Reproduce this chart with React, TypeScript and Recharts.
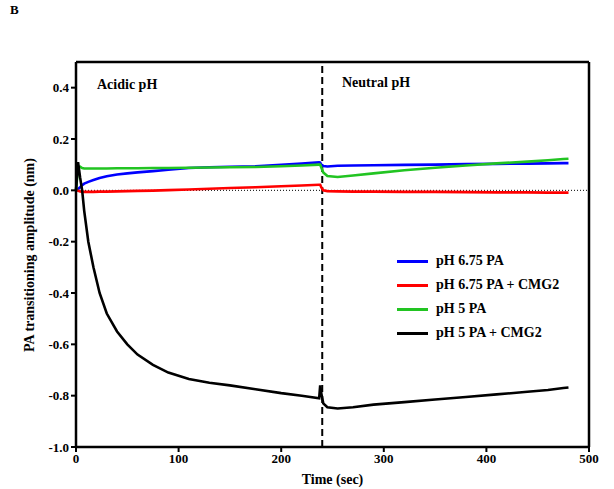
import { LineChart, Line, XAxis, YAxis, ReferenceLine } from 'recharts';

const times = [0, 2, 4, 6, 8, 12, 17, 23, 30, 40, 50, 60, 75, 90, 110, 130, 150, 175, 200, 220, 237, 238, 239, 241, 245, 255, 270, 290, 320, 350, 380, 410, 440, 460, 475, 480];

const ph675 = [0, 0.005, 0.012, 0.02, 0.026, 0.033, 0.04, 0.048, 0.055, 0.062, 0.066, 0.07, 0.075, 0.08, 0.087, 0.09, 0.092, 0.094, 0.099, 0.104, 0.109, 0.108, 0.1, 0.095, 0.093, 0.096, 0.097, 0.098, 0.099, 0.1, 0.102, 0.103, 0.104, 0.105, 0.106, 0.106];
const ph675Cmg2 = [0, -0.002, -0.004, -0.005, -0.006, -0.006, -0.006, -0.005, -0.005, -0.004, -0.003, -0.002, -0.001, 0.001, 0.003, 0.006, 0.009, 0.012, 0.016, 0.019, 0.022, 0.022, 0.012, 0.0, -0.003, -0.004, -0.005, -0.005, -0.006, -0.006, -0.007, -0.008, -0.008, -0.009, -0.009, -0.009];
const ph5 = [0, 0.09, 0.092, 0.087, 0.085, 0.085, 0.085, 0.085, 0.085, 0.086, 0.086, 0.086, 0.087, 0.087, 0.088, 0.089, 0.09, 0.091, 0.094, 0.097, 0.1, 0.1, 0.09, 0.07, 0.056, 0.052, 0.058, 0.066, 0.078, 0.088, 0.097, 0.105, 0.112, 0.117, 0.122, 0.123];
const ph5Cmg2 = [0, 0.11, 0.05, 0.0, -0.08, -0.2, -0.3, -0.4, -0.48, -0.55, -0.6, -0.64, -0.68, -0.71, -0.735, -0.75, -0.76, -0.775, -0.79, -0.8, -0.81, -0.76, -0.79, -0.83, -0.845, -0.85, -0.845, -0.835, -0.825, -0.815, -0.805, -0.795, -0.785, -0.778, -0.77, -0.768];

const xTicks = [0, 100, 200, 300, 400, 500];
const yTicks = [-1.0, -0.8, -0.6, -0.4, -0.2, 0.0, 0.2, 0.4];

const series = [
  { key: 'blue', name: 'pH 6.75 PA', color: '#0000ff', values: ph675 },
  { key: 'red', name: 'pH 6.75 PA + CMG2', color: '#ff0000', values: ph675Cmg2 },
  { key: 'green', name: 'pH 5 PA', color: '#22c422', values: ph5 },
  { key: 'black', name: 'pH 5 PA + CMG2', color: '#000000', values: ph5Cmg2 },
];

const data = times.map((t, i) => {
  const row: Record<string, number> = { t };
  series.forEach((s) => {
    row[s.key] = s.values[i];
  });
  return row;
});

const FONT = '"Liberation Serif", "Times New Roman", serif';
const tickStyle = { fontFamily: FONT, fontSize: 13, fontWeight: 700, fill: '#000' };

function LegendBox() {
  return (
    <div style={{ position: 'absolute', left: 397, top: 249, fontFamily: FONT, fontWeight: 700, fontSize: 14, color: '#000' }}>
      {series.map((s) => (
        <div key={s.key} style={{ display: 'flex', alignItems: 'center', height: 24 }}>
          <div style={{ width: 31, height: 3, background: s.color, marginRight: 8 }} />
          <span>{s.name}</span>
        </div>
      ))}
    </div>
  );
}

export default function App() {
  return (
    <div style={{ position: 'absolute', left: 0, top: 0, width: 614, height: 489, background: '#fff' }}>
      <LineChart width={614} height={489} data={data} margin={{ top: 62, right: 25, left: 0, bottom: 0 }}>
        <XAxis
          dataKey="t"
          type="number"
          domain={[0, 500]}
          ticks={xTicks}
          height={42}
          tick={tickStyle}
          tickSize={5}
          axisLine={{ stroke: '#000', strokeWidth: 2.5 }}
          tickLine={{ stroke: '#000', strokeWidth: 2 }}
          label={{ value: 'Time (sec)', position: 'insideBottom', offset: 5, style: { fontFamily: FONT, fontSize: 14, fontWeight: 700, fill: '#000' } }}
        />
        <YAxis
          type="number"
          domain={[-1.0, 0.5]}
          ticks={yTicks}
          width={76}
          tick={tickStyle}
          tickSize={5}
          tickFormatter={(v: number) => v.toFixed(1)}
          axisLine={{ stroke: '#000', strokeWidth: 2.5 }}
          tickLine={{ stroke: '#000', strokeWidth: 2 }}
        />
        <ReferenceLine y={0.5} stroke="#000" strokeWidth={2.5} />
        <ReferenceLine x={500} stroke="#000" strokeWidth={2.5} />
        <ReferenceLine y={0} stroke="#000" strokeWidth={1} strokeDasharray="1 2" />
        <ReferenceLine x={240} stroke="#000" strokeWidth={2} strokeDasharray="7 4" />
        {series.map((s) => (
          <Line
            key={s.key}
            dataKey={s.key}
            name={s.name}
            stroke={s.color}
            strokeWidth={2.6}
            dot={false}
            type="linear"
            isAnimationActive={false}
          />
        ))}
      </LineChart>
      <LegendBox />
      <div style={{ position: 'absolute', left: 30, top: 255, transform: 'translate(-50%, -50%) rotate(-90deg)', whiteSpace: 'nowrap', fontFamily: FONT, fontSize: 14, fontWeight: 700 }}>
        PA transitioning amplitude (nm)
      </div>
      <div style={{ position: 'absolute', left: 10, top: 2, fontFamily: FONT, fontSize: 13, fontWeight: 700 }}>B</div>
      <div style={{ position: 'absolute', left: 97, top: 77, fontFamily: FONT, fontSize: 14, fontWeight: 700 }}>Acidic pH</div>
      <div style={{ position: 'absolute', left: 342, top: 75, fontFamily: FONT, fontSize: 14, fontWeight: 700 }}>Neutral pH</div>
    </div>
  );
}
